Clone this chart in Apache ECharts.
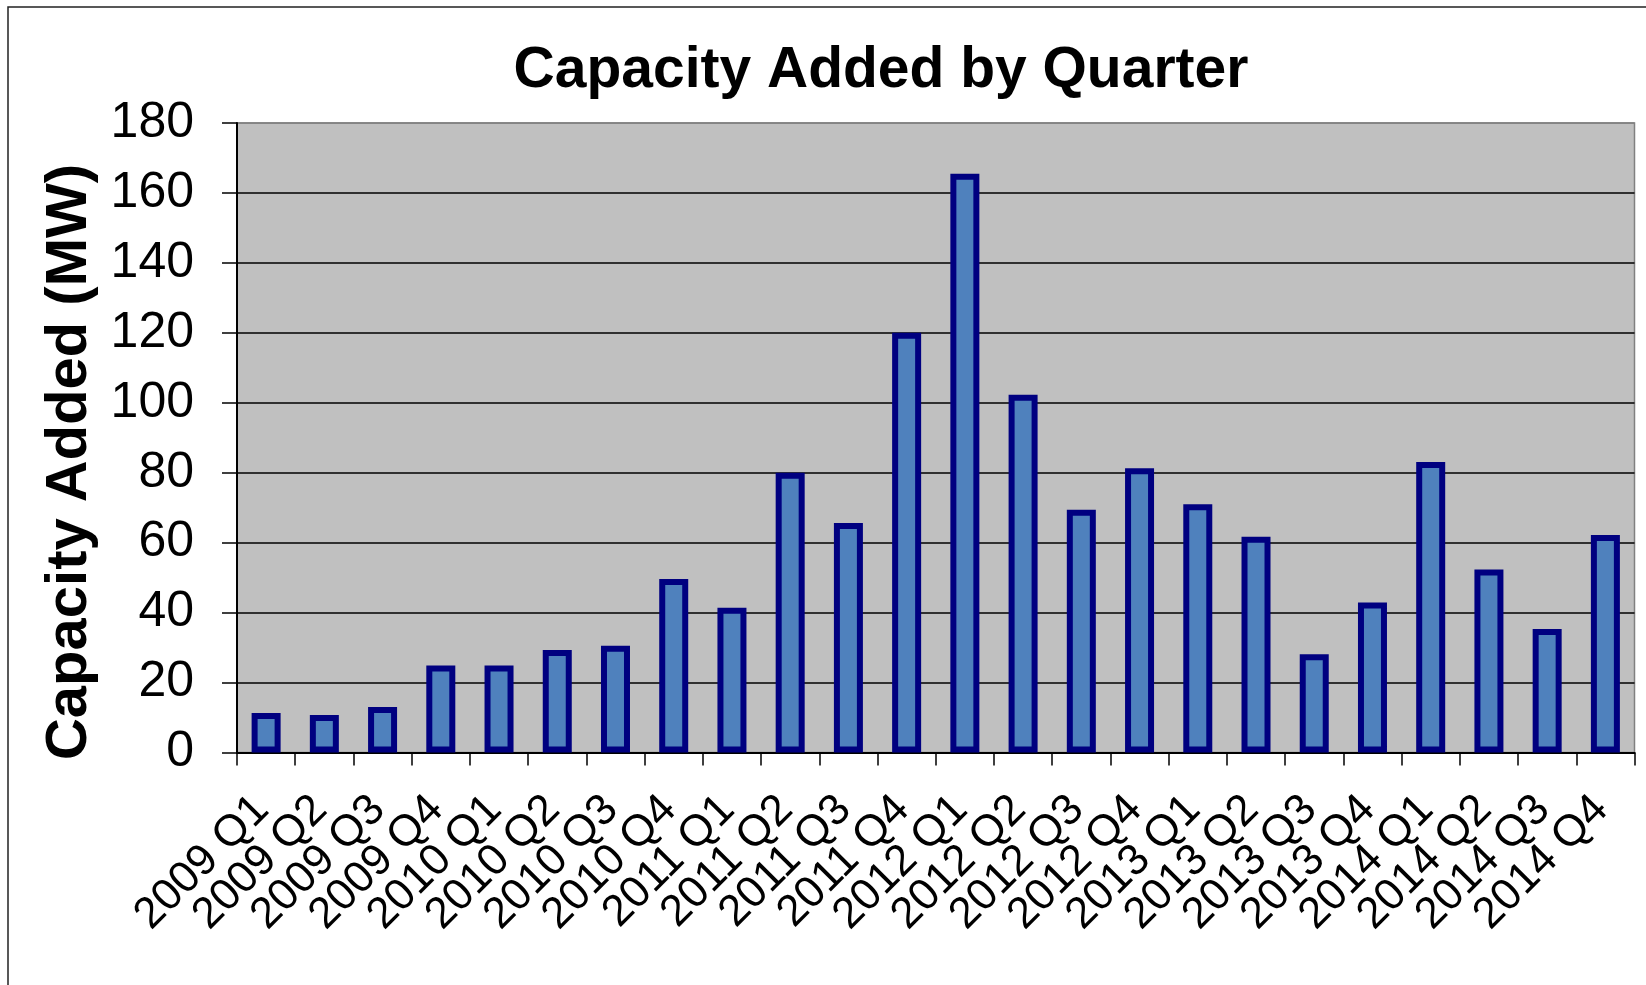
<!DOCTYPE html>
<html>
<head>
<meta charset="utf-8">
<script src="https://cdn.jsdelivr.net/npm/echarts@6/dist/echarts.min.js"></script>
<style>
html,body{margin:0;padding:0;background:#fff;}
#chart{width:1646px;height:985px;}
</style>
</head>
<body>
<div id="chart"></div>
<script>
var categories = ['2009 Q1','2009 Q2','2009 Q3','2009 Q4','2010 Q1','2010 Q2','2010 Q3','2010 Q4',
  '2011 Q1','2011 Q2','2011 Q3','2011 Q4','2012 Q1','2012 Q2','2012 Q3','2012 Q4',
  '2013 Q1','2013 Q2','2013 Q3','2013 Q4','2014 Q1','2014 Q2','2014 Q3','2014 Q4'];
var capacityMW = [11.3, 10.7, 13.0, 24.9, 24.9, 29.3, 30.5, 49.6,
  41.4, 80.0, 65.6, 120.0, 165.5, 102.3, 69.4, 81.3,
  71.0, 61.7, 28.1, 42.9, 83.1, 52.3, 35.3, 62.2];
var chartTitle = 'Capacity Added by Quarter';
var yAxisTitle = 'Capacity Added (MW)';
var yMin = 0, yMax = 180, yStep = 20;

var FONT = '"Liberation Sans", Arial, sans-serif';
var chart = echarts.init(document.getElementById('chart'), null, {renderer: 'canvas'});
var splitColors = [];
for (var v = yMin; v <= yMax; v += yStep) splitColors.push(v === yMax ? '#808080' : '#000000');

chart.setOption({
  animation: false,
  backgroundColor: '#ffffff',
  title: {
    text: chartTitle,
    left: 876,
    textAlign: 'center',
    top: 38,
    textStyle: {fontFamily: FONT, fontWeight: 'bold', fontSize: 57, color: '#000'}
  },
  graphic: [
    {type: 'rect', shape: {x: 8, y: 7, width: 1700, height: 1100},
     style: {fill: 'none', stroke: '#222', lineWidth: 1.5}, silent: true, z: 100},
    {type: 'text', x: 70, y: 462, rotation: Math.PI / 2,
     style: {text: yAxisTitle, fontFamily: FONT, fontWeight: 'bold', fontSize: 58, fill: '#000',
             textAlign: 'center', textVerticalAlign: 'middle'}}
  ],
  grid: {
    left: 237, right: 11.5, top: 123, bottom: 232.5,
    show: true, backgroundColor: '#c0c0c0', borderColor: '#808080', borderWidth: 1.5
  },
  xAxis: {
    type: 'category',
    data: categories,
    axisLine: {show: true, lineStyle: {color: '#000', width: 2}},
    axisTick: {show: true, length: 13, lineStyle: {color: '#000', width: 1.5}},
    axisLabel: {rotate: 45, interval: 0, margin: 46, fontFamily: FONT, fontSize: 44, color: '#000',
                padding: [0, 6, 0, 0]},
    splitLine: {show: false}
  },
  yAxis: {
    type: 'value',
    min: yMin, max: yMax, interval: yStep,
    axisLine: {show: true, lineStyle: {color: '#000', width: 2}},
    axisTick: {show: true, length: 15, lineStyle: {color: '#000', width: 1.5}},
    axisLabel: {margin: 43, fontFamily: FONT, fontSize: 50, color: '#000'},
    splitLine: {show: true, lineStyle: {color: splitColors, width: 1.5}}
  },
  series: [{
    type: 'bar',
    data: capacityMW,
    barWidth: 29,
    itemStyle: {color: '#4f81bd', borderColor: '#000080', borderWidth: 6}
  }]
});
</script>
</body>
</html>
